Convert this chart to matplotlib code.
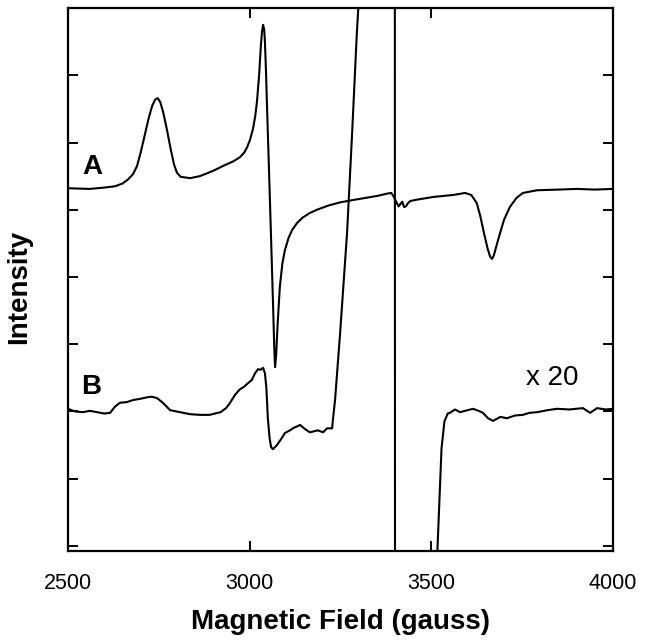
import numpy as np
import matplotlib
matplotlib.use("Agg")
import matplotlib.pyplot as plt

plt.rcParams['font.family'] = ['Liberation Sans', 'DejaVu Sans']

# spectrum A (field in gauss, intensity in arbitrary units)
field_a = [2500, 2560, 2600, 2630, 2650, 2665, 2679, 2690, 2700, 2710, 2722, 2732,
           2740, 2747, 2754, 2762, 2772, 2782, 2792, 2800, 2810, 2836, 2863, 2900,
           2930, 2955, 2973, 2985, 2993, 3001, 3009, 3015, 3020, 3026, 3031, 3034,
           3037, 3040, 3042, 3045, 3048, 3056, 3064, 3068, 3070, 3073, 3077, 3083,
           3090, 3097, 3107, 3117, 3130, 3145, 3165, 3185, 3215, 3249, 3290, 3323,
           3355, 3378, 3390, 3396, 3405, 3410, 3414, 3420, 3425, 3430, 3436, 3442,
           3460, 3505, 3560, 3593, 3610, 3625, 3635, 3645, 3655, 3662, 3667, 3672,
           3680, 3689, 3700, 3716, 3735, 3752, 3791, 3850, 3900, 3950, 4000]
int_a = [5.32, 5.31, 5.33, 5.35, 5.39, 5.45, 5.53, 5.65, 5.85, 6.08, 6.36, 6.55,
         6.64, 6.66, 6.60, 6.45, 6.20, 5.92, 5.67, 5.55, 5.49, 5.47, 5.50, 5.58,
         5.66, 5.72, 5.78, 5.85, 5.93, 6.04, 6.20, 6.38, 6.60, 7.00, 7.45, 7.65,
         7.75, 7.68, 7.50, 7.05, 6.50, 5.10, 3.66, 2.90, 2.66, 2.85, 3.30, 3.85,
         4.20, 4.40, 4.58, 4.70, 4.80, 4.88, 4.95, 5.00, 5.06, 5.11, 5.15, 5.18,
         5.21, 5.24, 5.25, 5.20, 5.10, 5.05, 5.08, 5.12, 5.04, 5.05, 5.10, 5.13,
         5.15, 5.19, 5.22, 5.25, 5.22, 5.10, 4.90, 4.65, 4.42, 4.30, 4.27, 4.32,
         4.48, 4.65, 4.85, 5.04, 5.18, 5.25, 5.29, 5.30, 5.31, 5.30, 5.31]

# spectrum B (x 20)
field_b = [2500, 2520, 2541, 2560, 2580, 2600, 2616, 2629, 2643, 2662, 2679, 2700,
           2717, 2730, 2745, 2761, 2781, 2808, 2836, 2863, 2890, 2920, 2935, 2945,
           2960, 2973, 2985, 2993, 3006, 3015, 3023, 3030, 3037, 3042, 3046, 3050,
           3055, 3059, 3064, 3075, 3089, 3097, 3111, 3119, 3139, 3152, 3166, 3180,
           3188, 3202, 3213, 3227, 3229, 3235, 3249, 3268, 3282, 3295, 3310, 3399,
           3401, 3480, 3500, 3515, 3528, 3536, 3545, 3551, 3565, 3579, 3600, 3615,
           3630, 3642, 3656, 3670, 3690, 3708, 3730, 3752, 3770, 3791, 3820, 3846,
           3880, 3917, 3937, 3956, 3980, 4000]
int_b = [2.04, 2.00, 1.99, 2.01, 1.99, 1.97, 1.98, 2.07, 2.13, 2.14, 2.17, 2.19,
         2.21, 2.22, 2.20, 2.13, 2.02, 1.99, 1.96, 1.95, 1.95, 1.99, 2.05, 2.12,
         2.25, 2.33, 2.37, 2.41, 2.47, 2.57, 2.63, 2.62, 2.65, 2.57, 2.35, 1.90,
         1.60, 1.47, 1.44, 1.50, 1.61, 1.68, 1.72, 1.75, 1.80, 1.74, 1.69, 1.71,
         1.72, 1.69, 1.75, 1.75, 1.87, 2.17, 3.17, 4.65, 6.14, 7.63, 9.0, 20.0,
         -20.0, -6.0, -4.0, -0.3, 1.45, 1.85, 1.97, 1.98, 2.03, 1.99, 2.02, 2.04,
         2.01, 1.98, 1.90, 1.86, 1.92, 1.90, 1.94, 1.95, 1.98, 1.99, 2.02, 2.04,
         2.03, 2.05, 1.98, 2.05, 2.03, 2.04]

fig = plt.figure(figsize=(6.45, 6.42), dpi=100)
ax = fig.add_axes([0.1054, 0.1417, 0.845, 0.8458])

ax.plot(field_a, int_a, color='black', lw=1.5)
ax.plot(field_b, int_b, color='black', lw=1.5)

ax.text(2566, 5.64, 'A', fontsize=20, fontweight='bold', ha='center', va='center')
ax.text(2563, 2.36, 'B', fontsize=20, fontweight='bold', ha='center', va='center')
ax.text(3832, 2.50, 'x 20', fontsize=20, ha='center', va='center')

ax.set_xlim(2500, 4000)
ax.set_ylim(-0.075, 8.0)
ax.set_xticks([2500, 3000, 3500, 4000])
ax.set_yticks(np.arange(0, 8))
ax.set_yticklabels([])
ax.tick_params(direction='in', length=7, width=1.4, top=True, right=True,
               labelsize=15.5, pad=16)
for s in ax.spines.values():
    s.set_linewidth(1.6)

ax.set_xlabel('Magnetic Field (gauss)', fontsize=20, fontweight='bold')
ax.set_ylabel('Intensity', fontsize=20, fontweight='bold')
ax.xaxis.set_label_coords(0.5, -0.107)
ax.yaxis.set_label_coords(-0.066, 0.487)

fig.savefig('out.png', dpi=100)
